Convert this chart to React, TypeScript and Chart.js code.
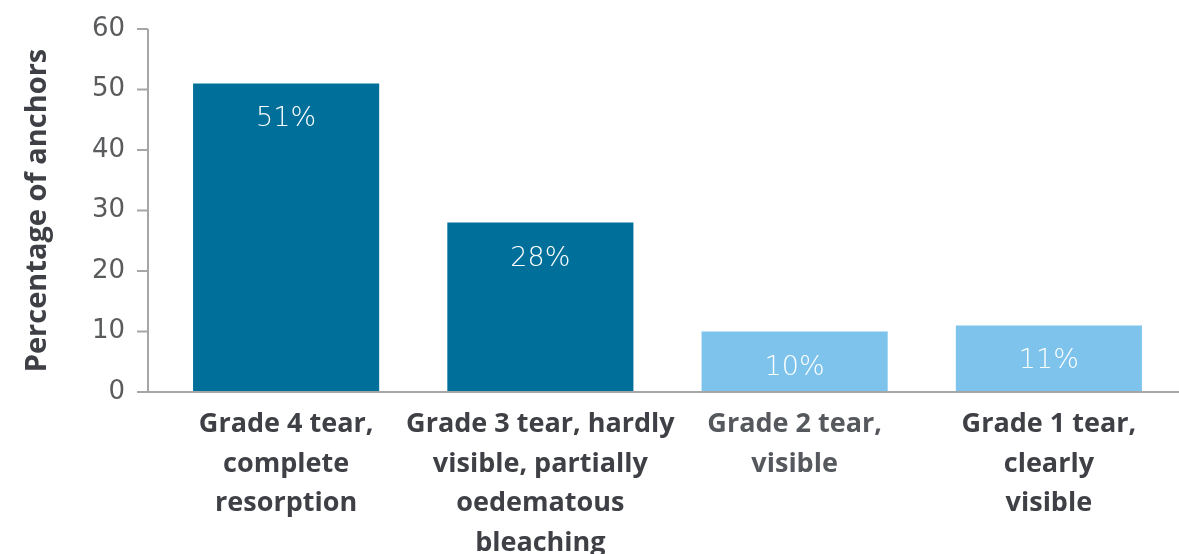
import React, { useEffect, useRef } from "react";
import { Chart, registerables } from "chart.js";

Chart.register(...registerables);

const categories: string[][] = [
  ["Grade 4 tear,", "complete", "resorption"],
  ["Grade 3 tear, hardly", "visible, partially", "oedematous", "bleaching"],
  ["Grade 2 tear,", "visible"],
  ["Grade 1 tear,", "clearly", "visible"],
];
const values: number[] = [51, 28, 10, 11];
const valueLabels: string[] = ["51%", "28%", "10%", "11%"];
const barColors: string[] = ["#00709b", "#00709b", "#7dc3ec", "#7dc3ec"];
const yTicks: number[] = [0, 10, 20, 30, 40, 50, 60];
const yTitle = "Percentage of anchors";

const axisPlugin = {
  id: "customAxis",
  afterDraw(chart: any) {
    const ctx = chart.ctx;
    const y = chart.scales.y;
    const area = chart.chartArea;
    const ax = area.left - 11;
    ctx.save();
    ctx.strokeStyle = "#a6a6a6";
    ctx.lineWidth = 2;
    ctx.beginPath();
    ctx.moveTo(ax, y.getPixelForValue(60));
    ctx.lineTo(ax, y.getPixelForValue(0));
    ctx.lineTo(chart.width, y.getPixelForValue(0));
    yTicks.forEach((t) => {
      const py = y.getPixelForValue(t);
      ctx.moveTo(ax - 11, py);
      ctx.lineTo(ax, py);
    });
    ctx.stroke();
    ctx.restore();
  },
};

const barLabelPlugin = {
  id: "barLabels",
  afterDatasetsDraw(chart: any) {
    const ctx = chart.ctx;
    const meta = chart.getDatasetMeta(0);
    ctx.save();
    ctx.fillStyle = "#ffffff";
    ctx.font = "200 27px 'DejaVu Sans'";
    ctx.textAlign = "center";
    ctx.textBaseline = "middle";
    meta.data.forEach((bar: any, i: number) => {
      ctx.fillText(valueLabels[i], bar.x, bar.y + 36);
    });
    ctx.restore();
  },
};

export default function App() {
  const ref = useRef<HTMLCanvasElement>(null);
  useEffect(() => {
    if (!ref.current) return;
    const chart = new Chart(ref.current, {
      type: "bar",
      data: {
        labels: categories,
        datasets: [
          {
            data: values,
            backgroundColor: barColors,
            borderWidth: 0,
            categoryPercentage: 1,
            barPercentage: 0.732,
          },
        ],
      },
      options: {
        responsive: false,
        animation: false,
        devicePixelRatio: 1,
        layout: { padding: { top: 29, right: 3, left: 0, bottom: 0 } },
        plugins: { legend: { display: false }, tooltip: { enabled: false } },
        scales: {
          x: {
            grid: { display: false },
            border: { display: false },
            ticks: {
              padding: 5,
              color: ["#3e4045", "#3e4045", "#55585d", "#3e4045"] as any,
              font: { family: "Open Sans", size: 27, weight: "bold", lineHeight: 1.46 },
              maxRotation: 0,
              autoSkip: false,
            },
            afterFit(scale: any) {
              scale.height = 162;
            },
          },
          y: {
            min: 0,
            max: 60,
            afterBuildTicks(scale: any) {
              scale.ticks = yTicks.map((v) => ({ value: v }));
            },
            grid: {
              drawOnChartArea: false,
              drawTicks: true,
              tickLength: 22,
              color: "rgba(0,0,0,0)",
            },
            border: { display: false },
            ticks: {
              padding: 12,
              color: "#5a5b5d",
              font: { family: "DejaVu Sans", size: 26, weight: "normal" },
            },
            title: {
              display: true,
              text: yTitle,
              color: "#3e4045",
              font: { family: "Open Sans", size: 29, weight: "bold" },
              padding: { top: 20, bottom: 0 },
            },
            afterFit(scale: any) {
              scale.width = 159;
            },
          },
        },
      },
      plugins: [axisPlugin, barLabelPlugin],
    });
    return () => chart.destroy();
  }, []);
  return (
    <div style={{ position: "fixed", left: 0, top: 0, width: 1179, height: 554, background: "#fff" }}>
      <canvas ref={ref} width={1179} height={554} />
    </div>
  );
}
